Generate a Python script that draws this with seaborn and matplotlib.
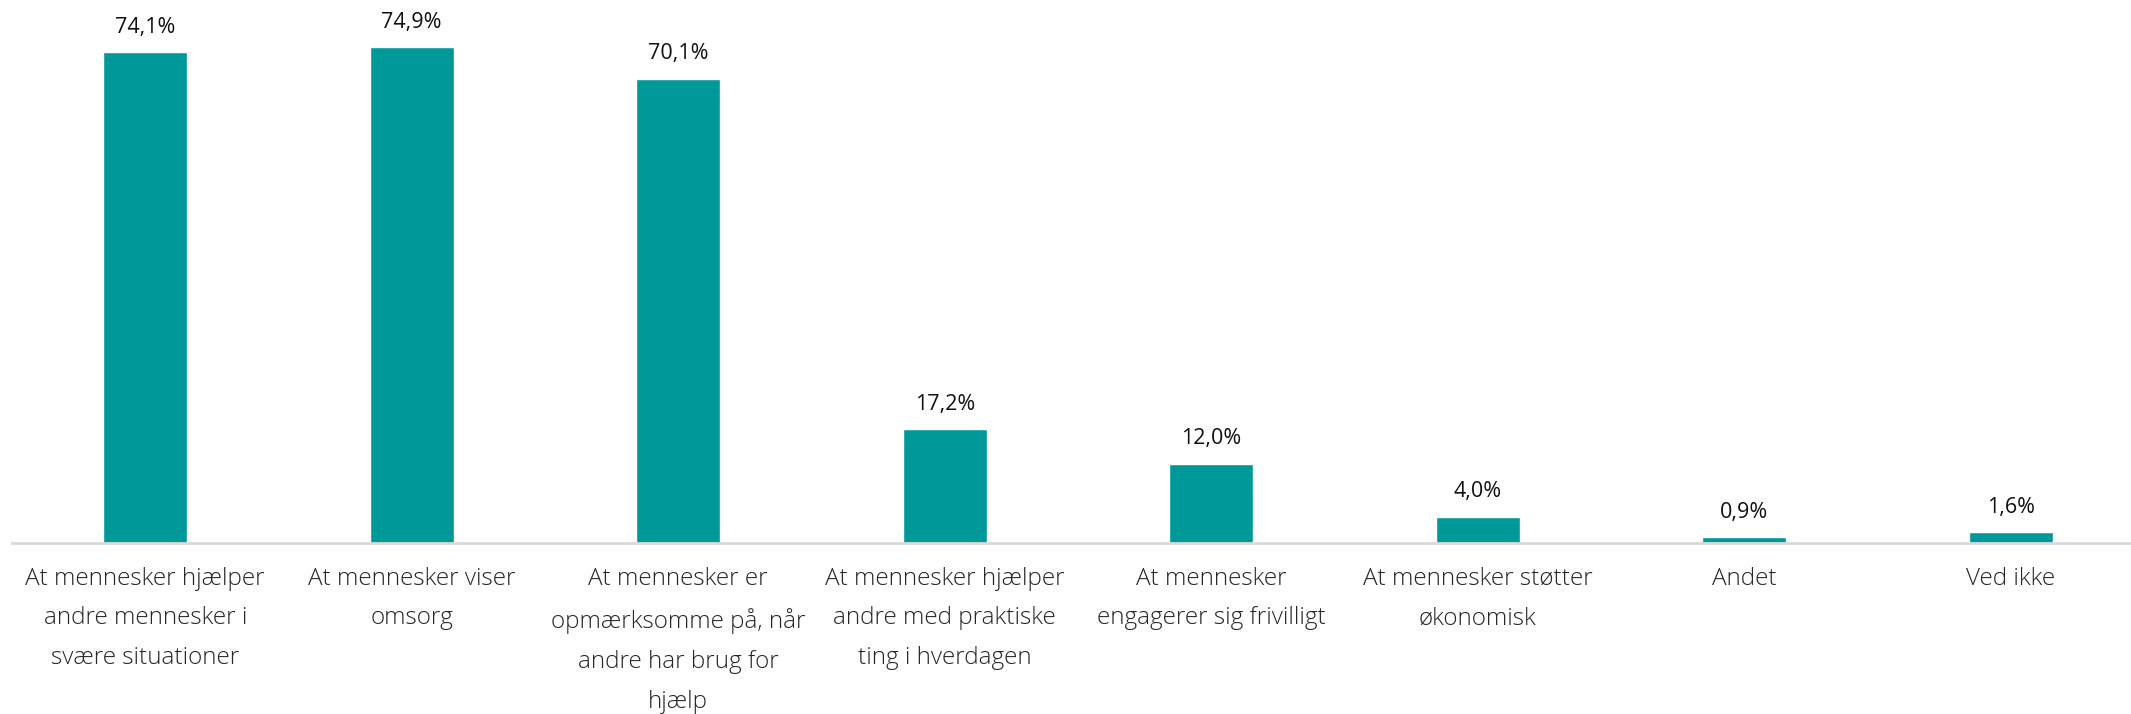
import matplotlib
matplotlib.use("Agg")
import matplotlib.pyplot as plt
import seaborn as sns
import pandas as pd

categories = [
    "At mennesker hjælper\nandre mennesker i\nsvære situationer",
    "At mennesker viser\nomsorg",
    "At mennesker er\nopmærksomme på, når\nandre har brug for\nhjælp",
    "At mennesker hjælper\nandre med praktiske\nting i hverdagen",
    "At mennesker\nengagerer sig frivilligt",
    "At mennesker støtter\nøkonomisk",
    "Andet",
    "Ved ikke",
]
values = [74.1, 74.9, 70.1, 17.2, 12.0, 4.0, 0.9, 1.6]
value_labels = ["74,1%", "74,9%", "70,1%", "17,2%", "12,0%", "4,0%", "0,9%", "1,6%"]

df = pd.DataFrame({"kategori": categories, "andel": values})

sns.set_theme(style="white")
plt.rcParams["font.family"] = ["Open Sans", "DejaVu Sans"]

fig = plt.figure(figsize=(21.31, 7.14), dpi=100)
ax = fig.add_axes([12 / 2131, 1 - 543 / 714, 8 * 266.5 / 2131, 543 / 714])

sns.barplot(data=df, x="kategori", y="andel", color="#009999", width=0.315,
            saturation=1, ax=ax)

ax.set_ylim(0, 82)
ax.set_xlim(-0.5, 7.5)
ax.set_xlabel("")
ax.set_ylabel("")
ax.set_yticks([])
for side in ["top", "right", "left"]:
    ax.spines[side].set_visible(False)
ax.spines["bottom"].set_color("#d9d9d9")
ax.spines["bottom"].set_linewidth(2)
ax.tick_params(axis="x", length=0, pad=17)
for lbl in ax.get_xticklabels():
    lbl.set_fontsize(17.5)
    lbl.set_fontweight("light")
    lbl.set_color("#262626")
    lbl.set_linespacing(1.88)

for i, (v, t) in enumerate(zip(values, value_labels)):
    ax.annotate(t, (i, v), xytext=(0, 18), textcoords="offset points",
                ha="center", va="center", fontsize=15.5, color="#111111")

fig.savefig("out.png", dpi=100)
